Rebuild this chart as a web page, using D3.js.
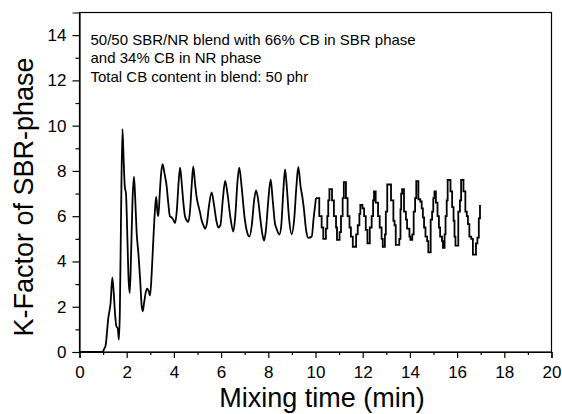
<!DOCTYPE html>
<html>
<head>
<meta charset="utf-8">
<script src="https://cdn.jsdelivr.net/npm/d3@7"></script>
<style>
body { margin: 0; background: #fff; }
text { font-family: Arial, "Liberation Sans", sans-serif; fill: #000; }
</style>
</head>
<body>
<div id="main"></div>
<script>
// smooth part of the trace (mixing time in min, K-factor)
const smoothTime = [
    0, 0.98, 1.05, 1.1, 1.22, 1.32, 1.39, 1.45, 1.52, 1.56,
    1.62, 1.67, 1.71, 1.76, 1.82, 1.87, 1.92, 1.97, 2.03, 2.08,
    2.13, 2.19, 2.25, 2.31, 2.36, 2.42, 2.5, 2.57, 2.63, 2.68,
    2.74, 2.8, 2.87, 2.93, 2.99, 3.06, 3.13, 3.2, 3.25, 3.3,
    3.34, 3.4, 3.46, 3.52, 3.6, 3.69, 3.76, 3.83, 3.9, 3.97,
    4.05, 4.12, 4.2, 4.26, 4.32, 4.4, 4.47, 4.55, 4.61, 4.68,
    4.75, 4.82, 4.9, 4.97, 5.03, 5.1, 5.18, 5.25, 5.32, 5.4,
    5.48, 5.6, 5.7, 5.8, 5.88, 5.97, 6.07, 6.17, 6.27, 6.4,
    6.52, 6.6, 6.7, 6.77, 6.87, 7.0, 7.1, 7.2, 7.3, 7.4,
    7.48, 7.56, 7.66, 7.75, 7.82, 7.9, 8.0, 8.1, 8.18, 8.28,
    8.35, 8.47, 8.55, 8.63, 8.71, 8.79, 8.88, 8.99, 9.1, 9.19,
    9.27, 9.37, 9.45, 9.5, 9.6, 9.7, 9.84, 9.92, 10.02];
const smoothK = [
    0, 0, 0.15, 0.25, 1.5, 2.2, 3.3, 2.6, 1.5, 1.15,
    1.05, 0.55, 1.8, 6.0, 9.85, 8.5, 7.3, 7.0, 5.0, 3.2,
    2.6, 4.5, 6.8, 7.75, 6.8, 5.3, 4.3, 3.2, 2.1, 1.8,
    2.2, 2.6, 2.8, 2.7, 2.5, 3.5, 5.0, 6.3, 6.85, 6.2,
    6.0, 7.0, 7.9, 8.3, 7.9, 7.35, 6.6, 6.0, 5.95, 5.85,
    5.7, 6.2, 7.5, 8.15, 7.6, 6.6, 6.0, 5.8, 5.75, 6.2,
    7.3, 8.2, 7.4, 6.8, 6.5, 6.2, 5.8, 5.6, 5.45, 5.7,
    6.4, 7.05, 6.5, 5.8, 5.5, 5.6, 6.7, 7.56, 7.0, 5.9,
    5.32, 6.0, 7.6, 8.15, 7.3, 5.9, 5.3, 5.1, 5.6, 6.7,
    7.14, 6.8, 5.9, 5.2, 4.92, 5.4, 6.7, 7.63, 6.8, 5.7,
    5.45, 5.19, 5.6, 7.0, 8.07, 7.2, 5.9, 5.21, 5.9, 7.3,
    8.18, 7.3, 6.8, 6.4, 5.4, 5.04, 5.1, 5.9, 6.8];

// stepped part after ~10 min
const stepTime = [
    10.02, 10.16, 10.26, 10.33, 10.44, 10.5, 10.54, 10.59, 10.7, 10.78,
    10.87, 10.91, 11.02, 11.08, 11.15, 11.2, 11.29, 11.36, 11.44, 11.5,
    11.58, 11.72, 11.79, 11.86, 11.9, 11.99, 12.06, 12.13, 12.2, 12.3,
    12.38, 12.44, 12.48, 12.55, 12.65, 12.72, 12.8, 12.85, 12.94, 12.98,
    13.04, 13.2, 13.3, 13.35, 13.4, 13.55, 13.6, 13.63, 13.67, 13.75,
    13.83, 13.88, 13.98, 14.02, 14.1, 14.16, 14.22, 14.27, 14.36, 14.44,
    14.5, 14.55, 14.6, 14.66, 14.73, 14.78, 14.88, 14.94, 14.99, 15.04,
    15.1, 15.17, 15.23, 15.28, 15.36, 15.4, 15.47, 15.51, 15.56, 15.6,
    15.72, 15.79, 15.85, 15.89, 15.93, 16.05, 16.12, 16.17, 16.27, 16.35,
    16.41, 16.46, 16.52, 16.6, 16.67, 16.8, 16.86, 16.92, 16.97, 17.01];
const stepK = [
    6.8, 6.0, 5.5, 5.0, 5.45, 6.0, 6.7, 7.2, 6.7, 6.0,
    5.5, 4.95, 5.3, 6.0, 6.8, 7.5, 6.8, 6.0, 5.5, 5.1,
    4.65, 5.2, 5.6, 6.1, 6.5, 6.35, 6.0, 5.4, 4.8, 5.5,
    6.0, 6.7, 7.1, 6.6, 6.0, 5.5, 5.0, 4.65, 5.2, 6.2,
    7.4, 6.7, 5.8, 5.6, 4.73, 5.0, 6.3, 7.0, 7.2, 6.2,
    5.85, 5.45, 5.1, 4.95, 5.2, 6.2, 6.8, 7.55, 6.75, 6.65,
    6.35, 5.95, 5.5, 5.1, 4.9, 4.4, 5.85, 6.2, 6.8, 7.1,
    6.6, 6.0, 5.5, 5.1, 4.9, 4.6, 5.2, 6.0, 6.7, 7.6,
    7.1, 6.4, 5.8, 5.1, 4.7, 6.2, 6.7, 7.6, 7.1, 6.2,
    6.0, 5.65, 5.1, 5.0, 4.3, 4.8, 5.05, 5.9, 6.45, 6.45];

// ticks
const xMajor = [0, 2, 4, 6, 8, 10, 12, 14, 16, 18, 20];
const xMinor = [1, 3, 5, 7, 9, 11, 13, 15, 17, 19];
const yMajor = [0, 2, 4, 6, 8, 10, 12, 14];
const yMinor = [1, 3, 5, 7, 9, 11, 13];

const noteLines = [
    "50/50 SBR/NR blend with 66% CB in SBR phase",
    "and 34% CB in NR phase",
    "Total CB content in blend: 50 phr"
];

// dimensions
const svg_width = 562,
    svg_height = 414;
const margin = {top: 12.5, right: 10.5, bottom: 62, left: 79.5};
const graph_width = svg_width - margin.left - margin.right,
    graph_height = svg_height - margin.top - margin.bottom;

var svgRoot = d3.select("#main").append("svg")
    .attr("width", svg_width)
    .attr("height", svg_height);
var svg = svgRoot.append("g")
    .attr("transform", `translate(${margin.left}, ${margin.top})`);

var xScale = d3.scaleLinear().domain([0, 20]).range([0, graph_width]);
var yScale = d3.scaleLinear().domain([0, 15]).range([graph_height, 0]);

// frame
svg.append("rect")
    .attr("width", graph_width)
    .attr("height", graph_height)
    .attr("fill", "none")
    .attr("stroke", "#000")
    .attr("stroke-width", 1.2);

// x axis
svg.append("g")
    .attr("transform", "translate(0," + graph_height + ")")
    .call(d3.axisBottom(xScale).tickValues(xMajor).tickSize(6).tickPadding(8));
svg.append("g")
    .attr("transform", "translate(0," + graph_height + ")")
    .call(d3.axisBottom(xScale).tickValues(xMinor).tickSize(3).tickFormat(""))
    .select(".domain").remove();

// y axis
svg.append("g")
    .call(d3.axisLeft(yScale).tickValues(yMajor).tickSize(7).tickPadding(6));
svg.append("g")
    .call(d3.axisLeft(yScale).tickValues(yMinor).tickSize(4).tickFormat(""))
    .select(".domain").remove();

svg.selectAll(".domain").attr("stroke-width", 1.2);
svg.selectAll(".tick line").attr("stroke-width", 1.2);
svg.selectAll(".tick text")
    .style("font-family", "Arial, 'Liberation Sans', sans-serif")
    .style("font-size", "17px");

// axis titles
svgRoot.append("text")
    .attr("x", 322)
    .attr("y", 407)
    .attr("text-anchor", "middle")
    .style("font-size", "27px")
    .text("Mixing time (min)");
svgRoot.append("text")
    .attr("transform", "translate(33,197) rotate(-90)")
    .attr("text-anchor", "middle")
    .style("font-size", "27px")
    .text("K-Factor of SBR-phase");

// note
svg.append("g").selectAll("text")
    .data(noteLines)
    .enter()
    .append("text")
    .attr("x", 11)
    .attr("y", function(d, i) { return 32.5 + i * 18.3; })
    .style("font-size", "15px")
    .text(function(d) { return d; });

// the trace
var smoothData = d3.zip(smoothTime, smoothK);
var stepData = d3.zip(stepTime, stepK);

svg.append("path")
    .datum(smoothData)
    .attr("fill", "none")
    .attr("stroke", "#000")
    .attr("stroke-width", 1.8)
    .attr("stroke-linejoin", "round")
    .attr("d", d3.line()
        .x(function(d) { return xScale(d[0]); })
        .y(function(d) { return yScale(d[1]); })
        .curve(d3.curveMonotoneX));

svg.append("path")
    .datum(stepData)
    .attr("fill", "none")
    .attr("stroke", "#000")
    .attr("stroke-width", 1.8)
    .attr("d", d3.line()
        .x(function(d) { return xScale(d[0]); })
        .y(function(d) { return yScale(d[1]); })
        .curve(d3.curveStepAfter));
</script>
</body>
</html>
